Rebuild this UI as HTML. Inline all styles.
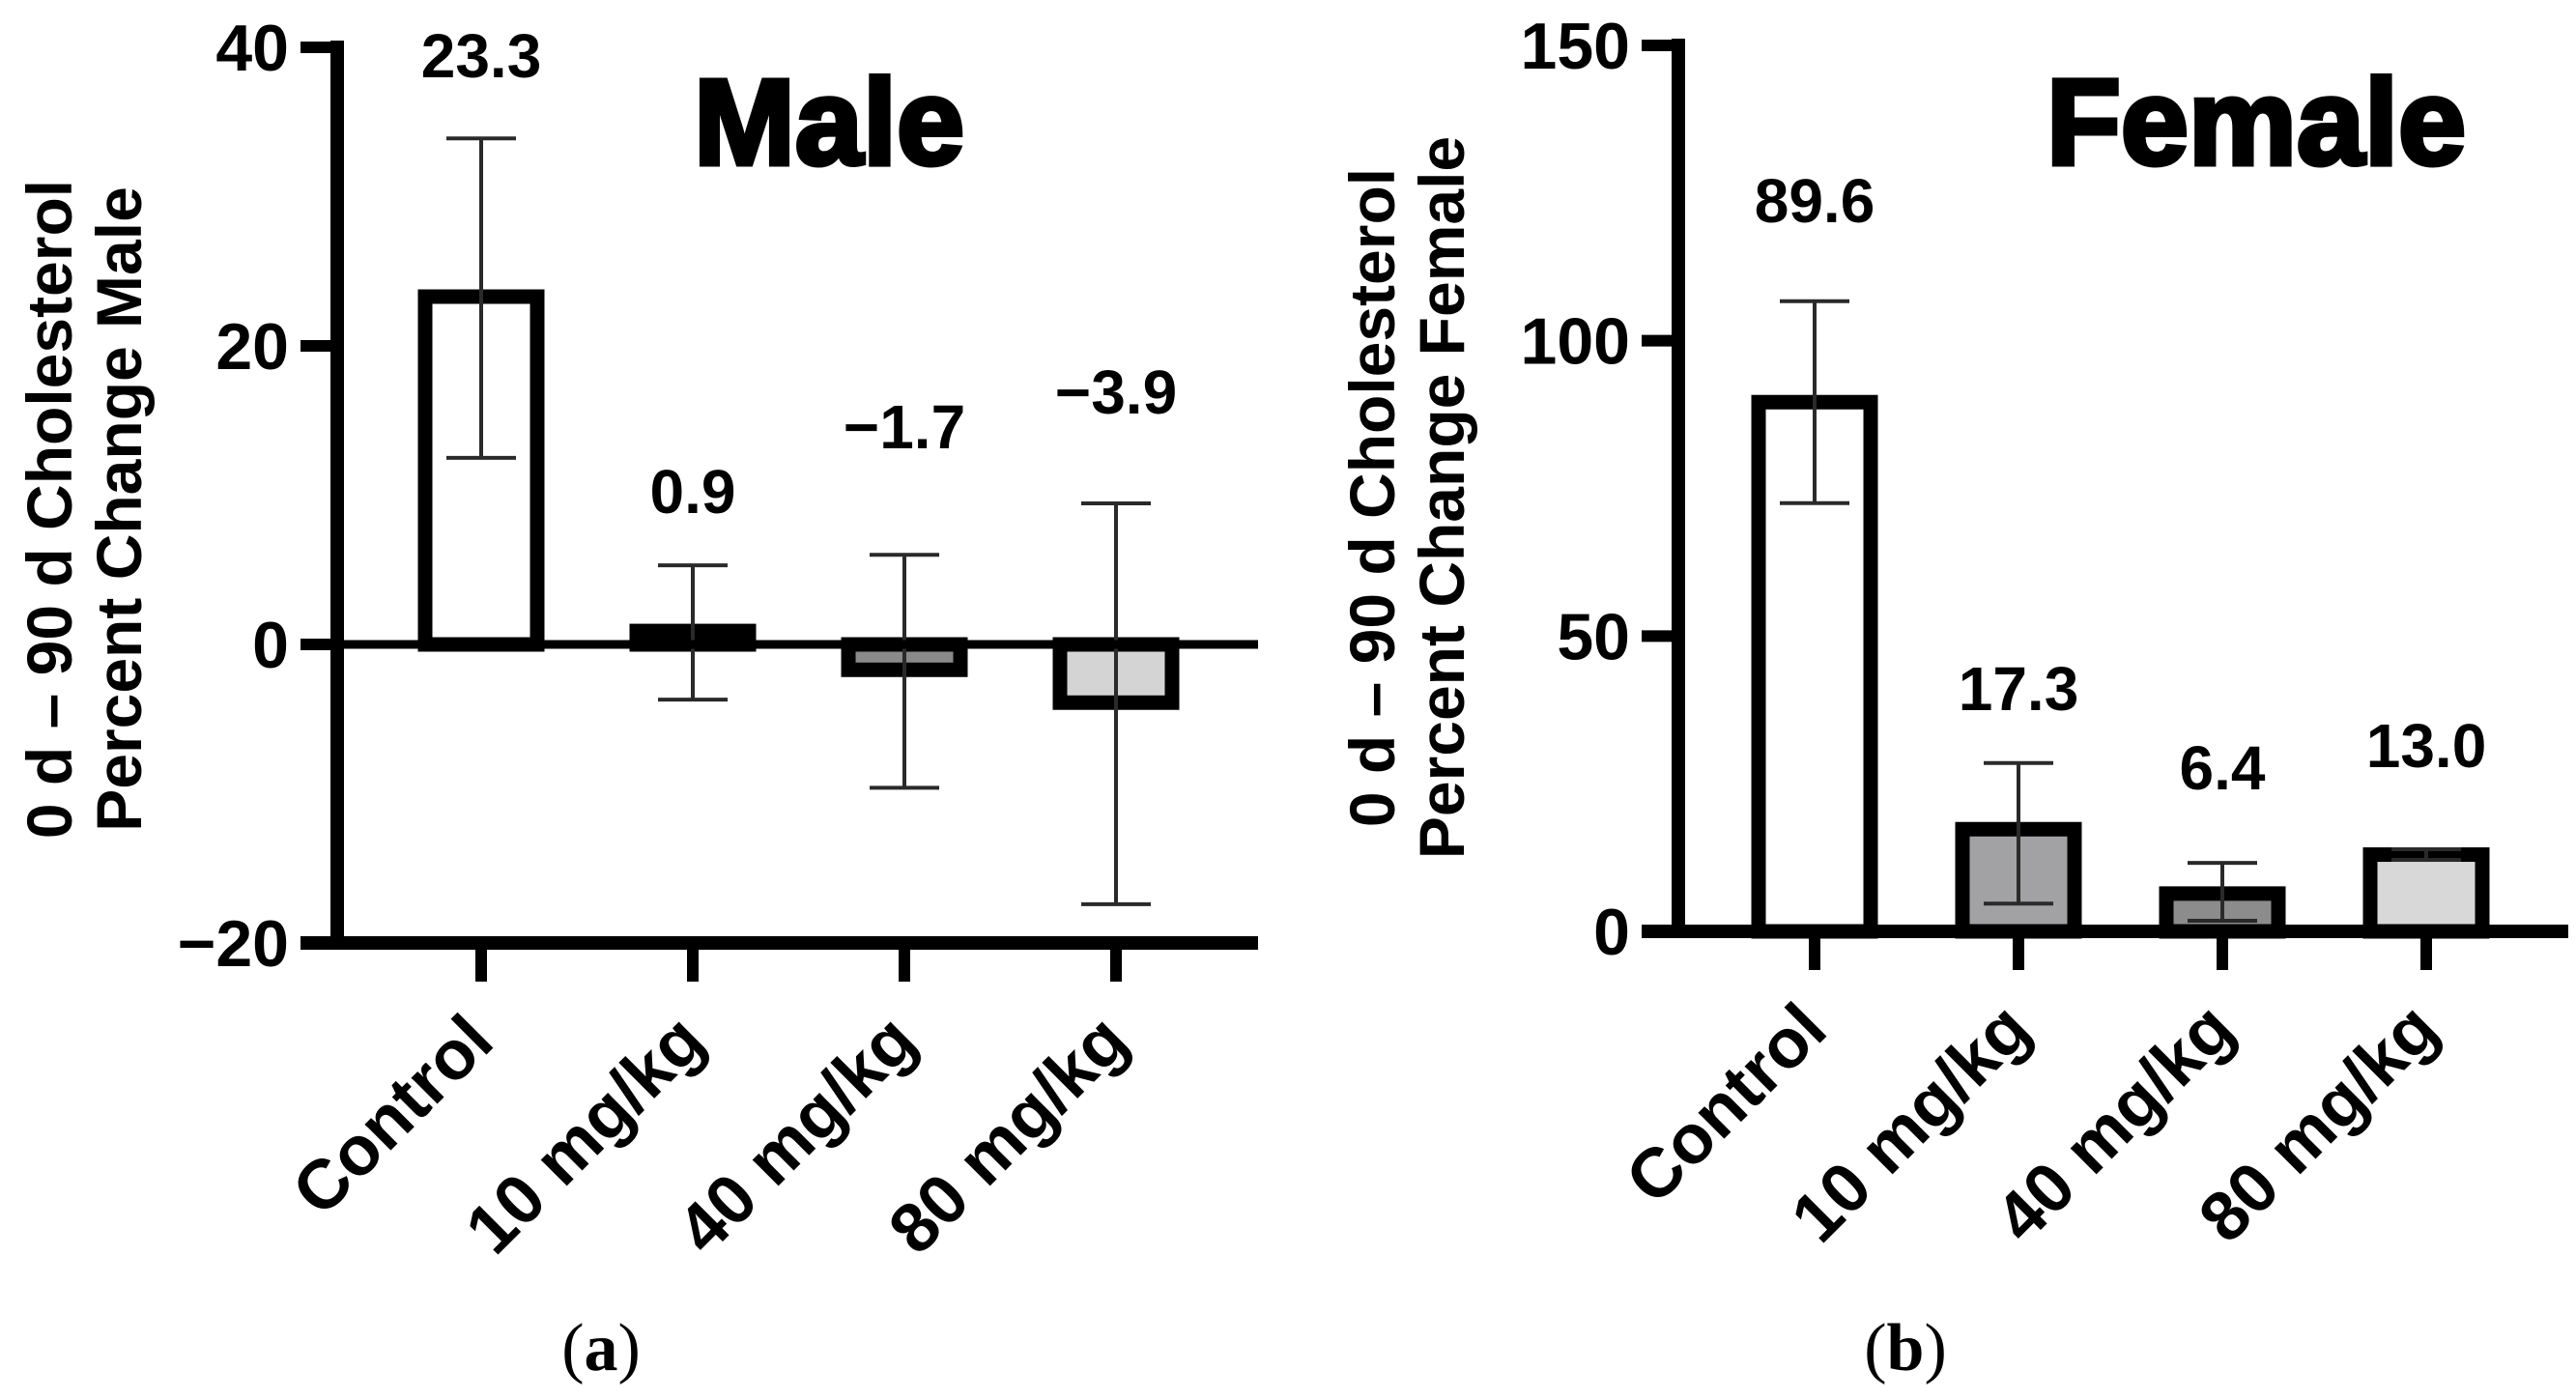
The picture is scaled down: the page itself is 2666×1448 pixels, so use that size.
<!DOCTYPE html>
<html><head><meta charset="utf-8"><style>
html,body{margin:0;padding:0;background:#fff;}
svg{display:block;}
text{font-family:"Liberation Sans",Arial,sans-serif;font-weight:bold;fill:#000;}
</style></head><body>
<svg id="fig" width="2666" height="1448" viewBox="0 0 2666 1448" xmlns="http://www.w3.org/2000/svg"></svg>
<script>
const categories = ["Control", "10 mg/kg", "40 mg/kg", "80 mg/kg"];
const maleValues = [23.3, 0.9, -1.7, -3.9];
const maleErrHigh = [33.9, 5.3, 6.0, 9.45];
const maleErrLow = [12.5, -3.7, -9.6, -17.4];
const maleLabels = ["23.3", "0.9", "\u22121.7", "\u22123.9"];
const maleTicks = [-20, 0, 20, 40];
const maleTickLabels = ["\u221220", "0", "20", "40"];
const femaleValues = [89.6, 17.3, 6.4, 13.0];
const femaleErrHigh = [106.7, 28.5, 11.6, 13.9];
const femaleErrLow = [72.5, 4.7, 1.8, 12.1];
const femaleLabels = ["89.6", "17.3", "6.4", "13.0"];
const femaleTicks = [0, 50, 100, 150];
const femaleTickLabels = ["0", "50", "100", "150"];

const NS = "http://www.w3.org/2000/svg";
const svg = document.getElementById("fig");
function mk(tag, attrs, parent) {
  const e = document.createElementNS(NS, tag);
  for (const k in attrs) e.setAttribute(k, attrs[k]);
  (parent || svg).appendChild(e);
  return e;
}

function drawPanel(p) {
  const g = mk("g", {});
  
  
  const y = v => p.y0 + (v - p.vtop) / (p.vbot - p.vtop) * (p.y1 - p.y0);
  const x = i => p.x0 + i * p.step;
  const fills = p.fills;
  p.values.forEach((v, i) => {
    const top = Math.min(y(v), y(0)), h = Math.abs(y(v) - y(0));
    const r = mk("rect", {x: x(i) - 58, y: top, width: 116, height: Math.max(h, 1), fill: fills[i], stroke: "#000", "stroke-width": 15}, g);
    
    
  });
  p.values.forEach((v, i) => {
    const eg = mk("g", {stroke: "#2a2a2a", "stroke-width": 4}, g);
    
    
    mk("line", {x1: x(i), x2: x(i), y1: y(p.hi[i]), y2: y(p.lo[i])}, eg);
    mk("line", {x1: x(i) - 36, x2: x(i) + 36, y1: y(p.hi[i]), y2: y(p.hi[i])}, eg);
    mk("line", {x1: x(i) - 36, x2: x(i) + 36, y1: y(p.lo[i]), y2: y(p.lo[i])}, eg);
    const t = mk("text", {x: x(i), y: p.labelY[i], "font-size": 64, "text-anchor": "middle"}, g);
    t.textContent = p.labels[i];
    
    
  });
  const ya = mk("line", {x1: p.ax, x2: p.ax, y1: p.y0 - 7, y2: p.xAxisY + 7, stroke: "#000", "stroke-width": 14}, g);
  
  
  const xa = mk("line", {x1: p.ax - 38, x2: p.xend, y1: p.xAxisY, y2: p.xAxisY, stroke: "#000", "stroke-width": 14}, g);
  
  
  if (p.zeroLine) {
    const zl = mk("line", {x1: p.ax, x2: p.xend, y1: y(0), y2: y(0), stroke: "#000", "stroke-width": 9}, g);
    
    
  }
  p.ticks.forEach((tv, i) => {
    mk("line", {x1: p.ax - 38, x2: p.ax, y1: y(tv), y2: y(tv), stroke: "#000", "stroke-width": 12}, g);
    const t = mk("text", {x: p.ax - 50, y: y(tv) + 24, "font-size": 68, "text-anchor": "end"}, g);
    t.textContent = p.tickLabels[i];
    
    
  });
  categories.forEach((c, i) => {
    mk("line", {x1: x(i), x2: x(i), y1: p.xAxisY, y2: p.xAxisY + 40, stroke: "#000", "stroke-width": 12}, g);
    const tx = x(i) + 16, ty = p.xAxisY + 105;
    const t = mk("text", {x: tx, y: ty, "font-size": 72, "text-anchor": "end", transform: "rotate(-45 " + tx + " " + ty + ")"}, g);
    t.textContent = c;
    
    
  });
  const yt = mk("text", {x: 0, y: 0, "font-size": 66, "text-anchor": "middle", transform: "translate(" + p.titleX + "," + p.titleY + ") rotate(-90)"}, g);
  
  
  const l1 = mk("tspan", {x: 0, dy: 0}, yt); l1.textContent = "0 d \u2013 90 d Cholesterol";
  const l2 = mk("tspan", {x: 0, dy: 72}, yt); l2.textContent = p.title2;
  const ht = mk("text", {x: p.headX, y: 170, "font-size": 126, "text-anchor": "middle", stroke: "#000", "stroke-width": 5}, g);
  ht.textContent = p.head;
  
  
  const cap = mk("text", {x: p.capX, y: 1418, "font-size": 70, "text-anchor": "middle", style: "font-family:'Liberation Serif',serif;font-weight:normal"}, g);
  cap.innerHTML = '(<tspan style="font-weight:bold">' + p.cap + '</tspan>)';
  
  
}

drawPanel({name: "male", values: maleValues, hi: maleErrHigh, lo: maleErrLow, labels: maleLabels,
  labelY: [80, 531, 464, 428], ticks: maleTicks, tickLabels: maleTickLabels,
  vtop: 40, vbot: -20, y0: 49, y1: 976, ax: 349, xAxisY: 976, xend: 1302, x0: 498, step: 219,
  zeroLine: true, fills: ["#fff", "#222", "#8a8a8a", "#d4d4d4"],
  titleX: 74, titleY: 527, title2: "Percent Change Male", head: "Male", headX: 858, capX: 622, cap: "a"});
drawPanel({name: "female", values: femaleValues, hi: femaleErrHigh, lo: femaleErrLow, labels: femaleLabels,
  labelY: [230, 735, 817, 794], ticks: femaleTicks, tickLabels: femaleTickLabels,
  vtop: 150, vbot: 0, y0: 47, y1: 964, ax: 1737, xAxisY: 964, xend: 2658, x0: 1878, step: 211,
  zeroLine: false, fills: ["#fff", "#a2a2a5", "#8c8c8c", "#d8d8d8"],
  titleX: 1443, titleY: 515, title2: "Percent Change Female", head: "Female", headX: 2335, capX: 1972, cap: "b"});
</script>
</body></html>
